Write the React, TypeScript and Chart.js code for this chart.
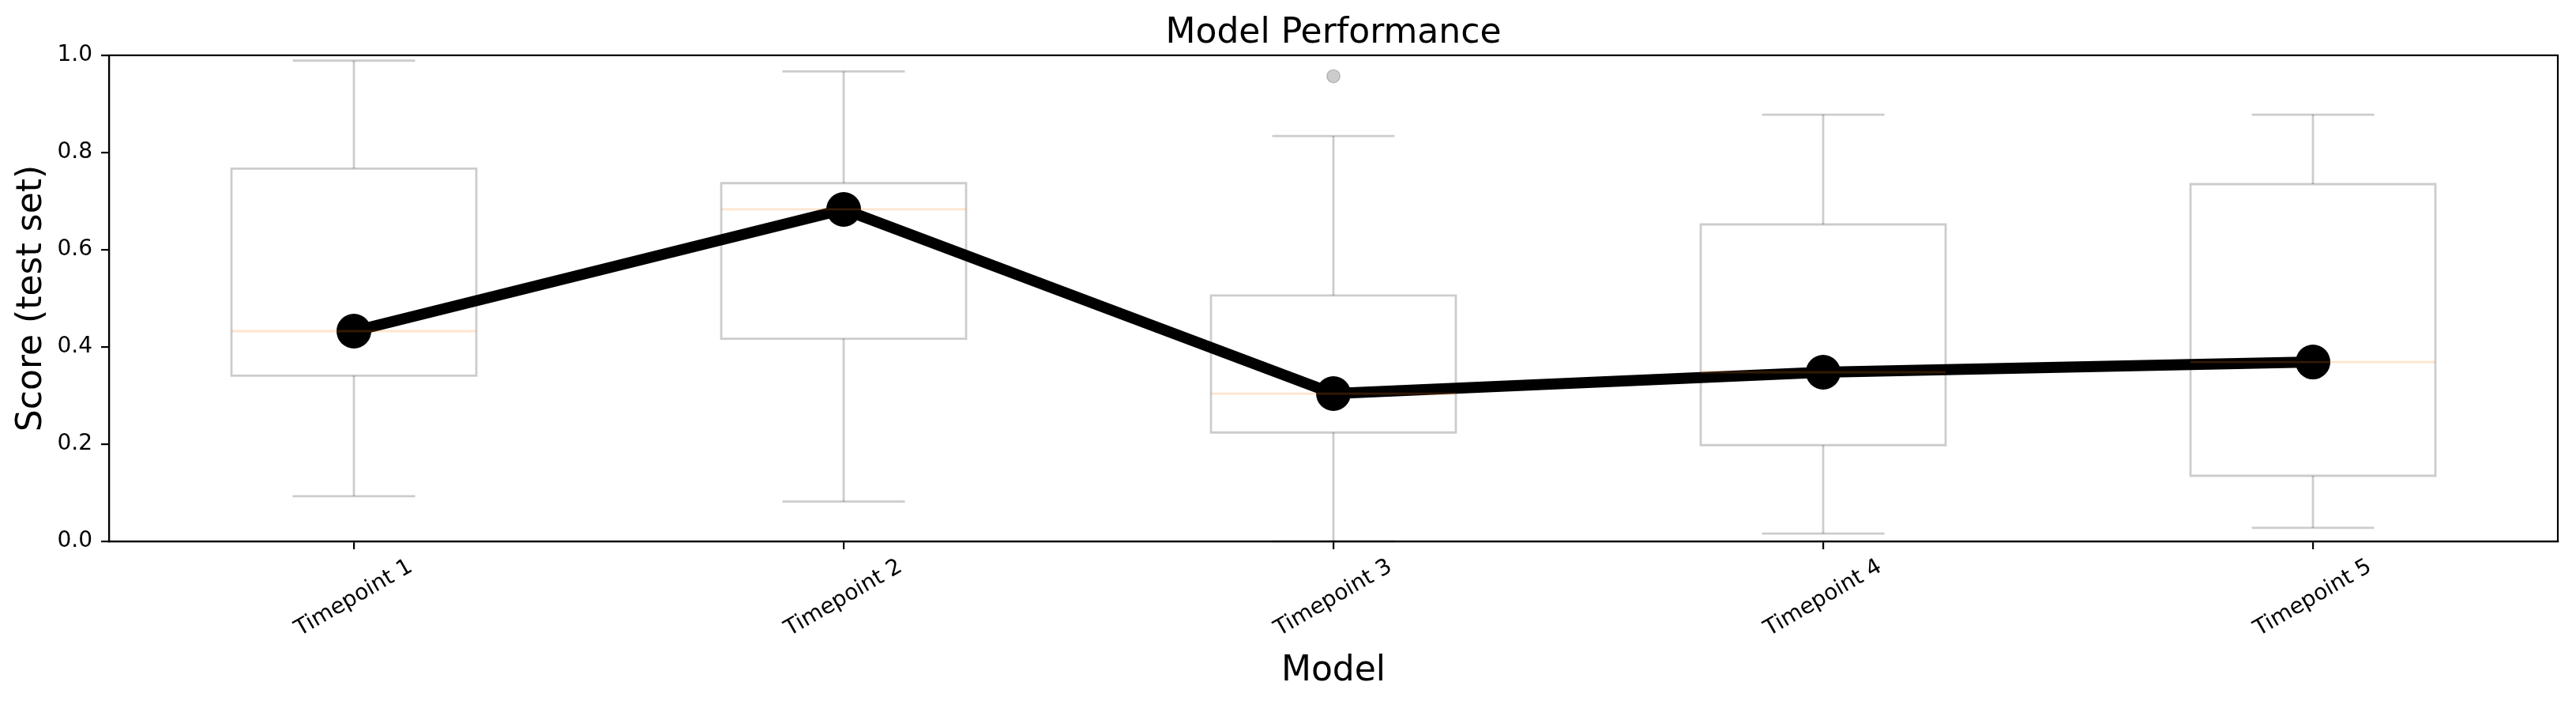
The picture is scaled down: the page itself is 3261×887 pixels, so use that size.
import React, { useEffect, useRef } from "react";
import { Chart, registerables } from "chart.js";

Chart.register(...registerables);

const categories = ["Timepoint 1", "Timepoint 2", "Timepoint 3", "Timepoint 4", "Timepoint 5"];
const whiskerLow = [0.093, 0.082, 0.0, 0.016, 0.028];
const q1 = [0.341, 0.417, 0.224, 0.198, 0.135];
const medians = [0.4325, 0.683, 0.304, 0.348, 0.369];
const q3 = [0.767, 0.737, 0.506, 0.652, 0.735];
const whiskerHigh = [0.989, 0.967, 0.834, 0.878, 0.878];
const outliers: number[][] = [[], [], [0.957], [], []];
const meanScores = [0.4325, 0.683, 0.304, 0.348, 0.369];
const yTicks = [0, 0.2, 0.4, 0.6, 0.8, 1.0];

const TITLE = "Model Performance";
const X_TITLE = "Model";
const Y_TITLE = "Score (test set)";
const FONT = "'DejaVu Sans', sans-serif";

const W = 3261;
const H = 887;
const AREA = { left: 138, right: 3238, top: 70, bottom: 685 };

const boxPlugin = {
  id: "boxes",
  afterDatasetsDraw(chart: any) {
    const { ctx } = chart;
    const xs = chart.scales.x;
    const ys = chart.scales.y;
    const spacing = xs.getPixelForValue(1) - xs.getPixelForValue(0);
    const half = spacing * 0.25;
    const capHalf = spacing * 0.125;
    ctx.save();
    ctx.lineWidth = 2.8;
    ctx.lineCap = "butt";
    for (let i = 0; i < categories.length; i++) {
      const x = xs.getPixelForValue(i);
      const yLo = ys.getPixelForValue(whiskerLow[i]);
      const yQ1 = ys.getPixelForValue(q1[i]);
      const yMed = ys.getPixelForValue(medians[i]);
      const yQ3 = ys.getPixelForValue(q3[i]);
      const yHi = ys.getPixelForValue(whiskerHigh[i]);
      ctx.strokeStyle = "rgba(0,0,0,0.2)";
      ctx.beginPath();
      ctx.rect(x - half, yQ3, 2 * half, yQ1 - yQ3);
      ctx.stroke();
      ctx.beginPath();
      ctx.moveTo(x, yQ1);
      ctx.lineTo(x, yLo);
      ctx.stroke();
      ctx.beginPath();
      ctx.moveTo(x, yQ3);
      ctx.lineTo(x, yHi);
      ctx.stroke();
      ctx.beginPath();
      ctx.moveTo(x - capHalf, yLo);
      ctx.lineTo(x + capHalf, yLo);
      ctx.stroke();
      ctx.beginPath();
      ctx.moveTo(x - capHalf, yHi);
      ctx.lineTo(x + capHalf, yHi);
      ctx.stroke();
      ctx.strokeStyle = "rgba(255,127,14,0.2)";
      ctx.beginPath();
      ctx.moveTo(x - half, yMed);
      ctx.lineTo(x + half, yMed);
      ctx.stroke();
      for (const o of outliers[i]) {
        const yo = ys.getPixelForValue(o);
        ctx.beginPath();
        ctx.arc(x, yo, 8.3, 0, Math.PI * 2);
        ctx.fillStyle = "rgba(0,0,0,0.2)";
        ctx.fill();
        ctx.lineWidth = 1.4;
        ctx.strokeStyle = "rgba(0,0,0,0.2)";
        ctx.stroke();
        ctx.lineWidth = 2.8;
      }
    }
    const ca = chart.chartArea;
    ctx.strokeStyle = "#000";
    ctx.lineWidth = 2.2;
    ctx.strokeRect(ca.left, ca.top, ca.right - ca.left, ca.bottom - ca.top);
    ctx.restore();
  },
};

const textPlugin = {
  id: "texts",
  afterDraw(chart: any) {
    const { ctx } = chart;
    const xs = chart.scales.x;
    const ca = chart.chartArea;
    const cx = (ca.left + ca.right) / 2;
    ctx.save();
    ctx.fillStyle = "#000";
    ctx.font = `44px ${FONT}`;
    ctx.textAlign = "center";
    ctx.textBaseline = "alphabetic";
    ctx.fillText(TITLE, cx, 54);
    ctx.fillText(X_TITLE, cx, 861);
    ctx.save();
    ctx.translate(52, (ca.top + ca.bottom) / 2);
    ctx.rotate(-Math.PI / 2);
    ctx.fillText(Y_TITLE, 0, 0);
    ctx.restore();
    ctx.font = `28px ${FONT}`;
    ctx.textBaseline = "middle";
    for (let i = 0; i < categories.length; i++) {
      const x = xs.getPixelForValue(i);
      ctx.save();
      ctx.translate(x, 757);
      ctx.rotate(-Math.PI / 6);
      ctx.fillText(categories[i], 0, 0);
      ctx.restore();
    }
    ctx.restore();
  },
};

export default function App() {
  const canvasRef = useRef<HTMLCanvasElement | null>(null);

  useEffect(() => {
    document.body.style.margin = "0";
    const canvas = canvasRef.current;
    if (!canvas) return;
    const chart = new Chart(canvas, {
      type: "line",
      data: {
        labels: categories,
        datasets: [
          {
            label: "Mean score",
            data: meanScores,
            borderColor: "#000",
            backgroundColor: "#000",
            borderWidth: 14,
            pointRadius: 22,
            pointHoverRadius: 22,
            pointBackgroundColor: "#000",
            pointBorderWidth: 0,
            borderJoinStyle: "round",
            tension: 0,
            fill: false,
            clip: false as any,
          },
        ],
      },
      plugins: [boxPlugin, textPlugin],
      options: {
        responsive: false,
        animation: false,
        devicePixelRatio: 1,
        layout: {
          padding: { left: 0, top: AREA.top, right: W - AREA.right, bottom: 0 },
        },
        plugins: {
          legend: { display: false },
          tooltip: { enabled: false },
          title: { display: false },
        },
        scales: {
          x: {
            type: "category",
            offset: true,
            grid: {
              display: true,
              drawOnChartArea: false,
              drawTicks: true,
              tickLength: 10,
              offset: false,
              color: "#000",
              lineWidth: 2.2,
            },
            border: { display: true, color: "#000", width: 2.2 },
            ticks: { display: false },
            afterFit: (scale: any) => {
              scale.height = H - AREA.bottom;
            },
          },
          y: {
            type: "linear",
            min: 0,
            max: 1,
            grid: {
              display: true,
              drawOnChartArea: false,
              drawTicks: true,
              tickLength: 10,
              color: "#000",
              lineWidth: 2.2,
            },
            border: { display: true, color: "#000", width: 2.2 },
            ticks: {
              color: "#000",
              font: { family: FONT, size: 28 },
              padding: 11,
              callback: (v: any) => Number(v).toFixed(1),
            },
            afterBuildTicks: (scale: any) => {
              scale.ticks = yTicks.map((v) => ({ value: v }));
            },
            afterFit: (scale: any) => {
              scale.width = AREA.left;
            },
          },
        },
      } as any,
    });
    return () => {
      chart.destroy();
    };
  }, []);

  return (
    <div style={{ width: W, height: H, background: "#fff" }}>
      <canvas ref={canvasRef} width={W} height={H} style={{ display: "block", width: W, height: H }} />
    </div>
  );
}
